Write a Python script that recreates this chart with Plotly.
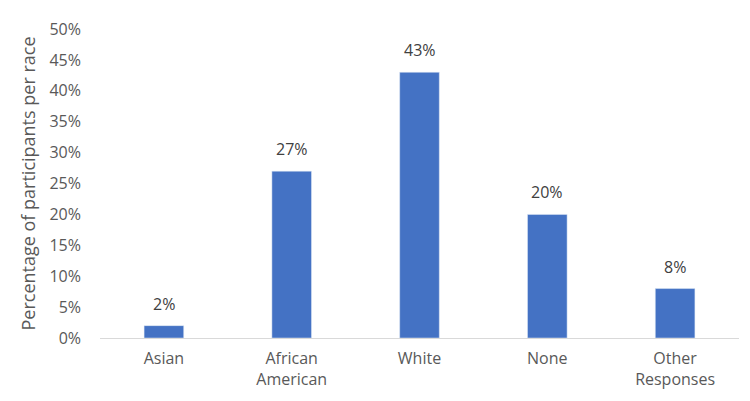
import plotly.graph_objects as go

categories = ["Asian", "African<br>American", "White", "None", "Other<br>Responses"]
values = [2, 27, 43, 20, 8]
labels = ["2%", "27%", "43%", "20%", "8%"]
tick_vals = [0, 5, 10, 15, 20, 25, 30, 35, 40, 45, 50]
tick_text = ["0%", "5%", "10%", "15%", "20%", "25%", "30%", "35%", "40%", "45%", "50%"]

fig = go.Figure(go.Bar(
    x=categories, y=values,
    marker_color="#4472C4", width=0.31,
))
for c, v, t in zip(categories, values, labels):
    fig.add_annotation(
        x=c, y=v, text=t, showarrow=False, yanchor="bottom", yshift=9,
        font=dict(size=16, color="#404040", family="Open Sans"),
    )
fig.update_layout(
    width=750, height=401,
    margin=dict(l=100, r=11, t=29, b=61),
    plot_bgcolor="white", paper_bgcolor="white",
    showlegend=False,
    font=dict(family="Open Sans", color="#595959"),
)
fig.update_yaxes(
    range=[0, 50], tickvals=tick_vals, ticktext=tick_text,
    showgrid=False, zeroline=False, showline=False,
    tickfont=dict(size=16, color="#595959"),
    ticklabelstandoff=18,
    title=dict(text="Percentage of participants per race", font=dict(size=18, color="#595959"), standoff=9),
)
fig.update_xaxes(
    showline=True, linecolor="#D9D9D9", linewidth=1,
    tickfont=dict(size=16, color="#595959"),
    ticks="", ticklabelstandoff=6,
)
fig.write_html("out.html")
